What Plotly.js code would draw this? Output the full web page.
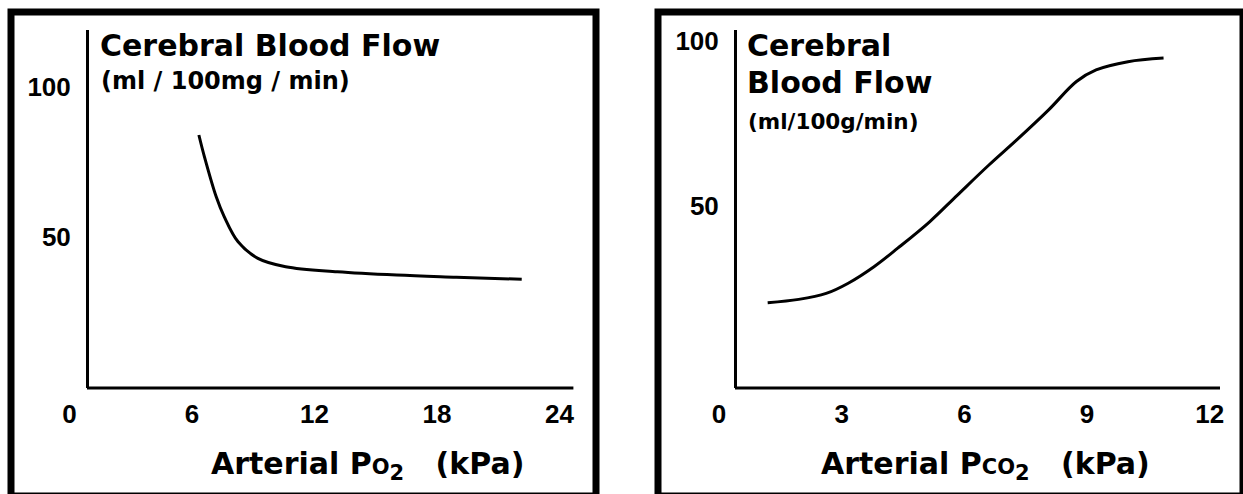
<!DOCTYPE html>
<html>
<head>
<meta charset="utf-8">
<script src="https://cdn.plot.ly/plotly-3.0.1.min.js"></script>
<style>
  html, body { margin: 0; padding: 0; background: #ffffff; }
  #chart { width: 1243px; height: 494px; }
</style>
</head>
<body>
<div id="chart"></div>
<script>
// ---- Data ----
// Left panel: cerebral blood flow vs arterial PO2
const po2Values  = [6.34, 6.61, 7.19, 7.58, 8.26, 9.23, 10.59, 13.12, 16.03, 18.95, 22.15];
const po2Flow    = [84.0, 76.8, 63.4, 56.8, 48.4, 42.9, 40.1, 38.4, 37.3, 36.6, 35.9];
// Right panel: cerebral blood flow vs arterial PCO2
const pco2Values = [1.19, 1.95, 2.62, 3.16, 3.79, 4.37, 5.15, 5.83, 6.60, 7.28, 8.06, 8.74, 9.22, 10.0, 10.87];
const pco2Flow   = [20.7, 21.7, 23.5, 26.6, 31.6, 37.2, 45.2, 53.3, 62.4, 70.0, 79.1, 87.7, 91.2, 93.7, 94.8];

const po2Ticks   = [0, 6, 12, 18, 24];
const pco2Ticks  = [0, 3, 6, 9, 12];
const flowTicks  = [50, 100];

const leftTitle     = 'Cerebral Blood Flow';
const leftUnits     = '(ml / 100mg / min)';
const rightTitle1   = 'Cerebral';
const rightTitle2   = 'Blood Flow';
const rightUnits    = '(ml/100g/min)';
const leftXTitle    = 'Arterial P<span style="font-size:21px">O</span><sub>2</sub>\u00a0\u00a0\u00a0(kPa)';
const rightXTitle   = 'Arterial P<span style="font-size:21px">CO</span><sub>2</sub>\u00a0\u00a0\u00a0(kPa)';

// ---- Layout helpers (pixel -> paper) ----
const W = 1243, H = 494;
const px = p => p / W;
const py = p => 1 - p / H;

const tickFont  = { family: 'Liberation Sans, Arial, sans-serif', size: 26, color: '#000', weight: 'bold' };
const titleFont = (s) => ({ family: 'DejaVu Sans, sans-serif', size: s, color: '#000', weight: 'bold' });

const traces = [
  { x: po2Values, y: po2Flow, xaxis: 'x', yaxis: 'y', mode: 'lines',
    line: { color: '#000', width: 3, shape: 'spline', smoothing: 1 }, hoverinfo: 'skip', showlegend: false },
  { x: pco2Values, y: pco2Flow, xaxis: 'x2', yaxis: 'y2', mode: 'lines',
    line: { color: '#000', width: 3, shape: 'spline', smoothing: 1 }, hoverinfo: 'skip', showlegend: false }
];

const axisCommon = {
  showgrid: false, zeroline: false, ticks: '', tickfont: tickFont, fixedrange: true
};

const layout = {
  width: W, height: H,
  margin: { l: 0, r: 0, t: 0, b: 0, pad: 0 },
  paper_bgcolor: '#ffffff', plot_bgcolor: 'rgba(0,0,0,0)',
  showlegend: false,
  xaxis: Object.assign({}, axisCommon, {
    domain: [px(69.4), px(573.4)], range: [0, 24.68], anchor: 'y',
    tickmode: 'array', tickvals: po2Ticks, showline: false, ticklabelstandoff: 8
  }),
  yaxis: Object.assign({}, axisCommon, {
    domain: [py(388), py(30)], range: [-0.33, 119], anchor: 'free', position: px(87),
    tickmode: 'array', tickvals: flowTicks, showline: true, linecolor: '#000', linewidth: 3,
    ticklabelstandoff: 10
  }),
  xaxis2: Object.assign({}, axisCommon, {
    domain: [px(719), px(1220)], range: [0, 12.25], anchor: 'y2',
    tickmode: 'array', tickvals: pco2Ticks, showline: false, ticklabelstandoff: 8
  }),
  yaxis2: Object.assign({}, axisCommon, {
    domain: [py(388), py(30)], range: [-5.15, 103.3], anchor: 'free', position: px(735),
    tickmode: 'array', tickvals: flowTicks, showline: true, linecolor: '#000', linewidth: 3,
    ticklabelstandoff: 10
  }),
  shapes: [
    // panel frames
    { type: 'rect', xref: 'paper', yref: 'paper', x0: px(11), x1: px(596), y0: py(12), y1: py(496),
      line: { color: '#000', width: 7 }, fillcolor: 'rgba(0,0,0,0)', layer: 'below' },
    { type: 'rect', xref: 'paper', yref: 'paper', x0: px(658), x1: px(1243), y0: py(12), y1: py(496),
      line: { color: '#000', width: 7 }, fillcolor: 'rgba(0,0,0,0)', layer: 'below' },
    // x axis lines starting at the y axes
    { type: 'line', xref: 'paper', yref: 'paper', x0: px(87), x1: px(573.4), y0: py(388), y1: py(388),
      line: { color: '#000', width: 3 } },
    { type: 'line', xref: 'paper', yref: 'paper', x0: px(735), x1: px(1220), y0: py(388), y1: py(388),
      line: { color: '#000', width: 3 } }
  ],
  annotations: [
    { text: leftTitle, xref: 'paper', yref: 'paper', x: px(99), y: py(27), xanchor: 'left', yanchor: 'top',
      showarrow: false, font: titleFont(30), borderpad: 0 },
    { text: leftUnits, xref: 'paper', yref: 'paper', x: px(100), y: py(66), xanchor: 'left', yanchor: 'top',
      showarrow: false, font: titleFont(24), borderpad: 0 },
    { text: rightTitle1, xref: 'paper', yref: 'paper', x: px(746), y: py(27), xanchor: 'left', yanchor: 'top',
      showarrow: false, font: titleFont(30), borderpad: 0 },
    { text: rightTitle2, xref: 'paper', yref: 'paper', x: px(746), y: py(64), xanchor: 'left', yanchor: 'top',
      showarrow: false, font: titleFont(30), borderpad: 0 },
    { text: rightUnits, xref: 'paper', yref: 'paper', x: px(747), y: py(108), xanchor: 'left', yanchor: 'top',
      showarrow: false, font: titleFont(21.5), borderpad: 0 },
    { text: leftXTitle, xref: 'paper', yref: 'paper', x: px(367.5), y: py(445), xanchor: 'center', yanchor: 'top',
      showarrow: false, font: titleFont(30), borderpad: 0 },
    { text: rightXTitle, xref: 'paper', yref: 'paper', x: px(985.5), y: py(445), xanchor: 'center', yanchor: 'top',
      showarrow: false, font: titleFont(30), borderpad: 0 }
  ]
};

Plotly.newPlot('chart', traces, layout, { staticPlot: true, displayModeBar: false });
</script>
</body>
</html>
